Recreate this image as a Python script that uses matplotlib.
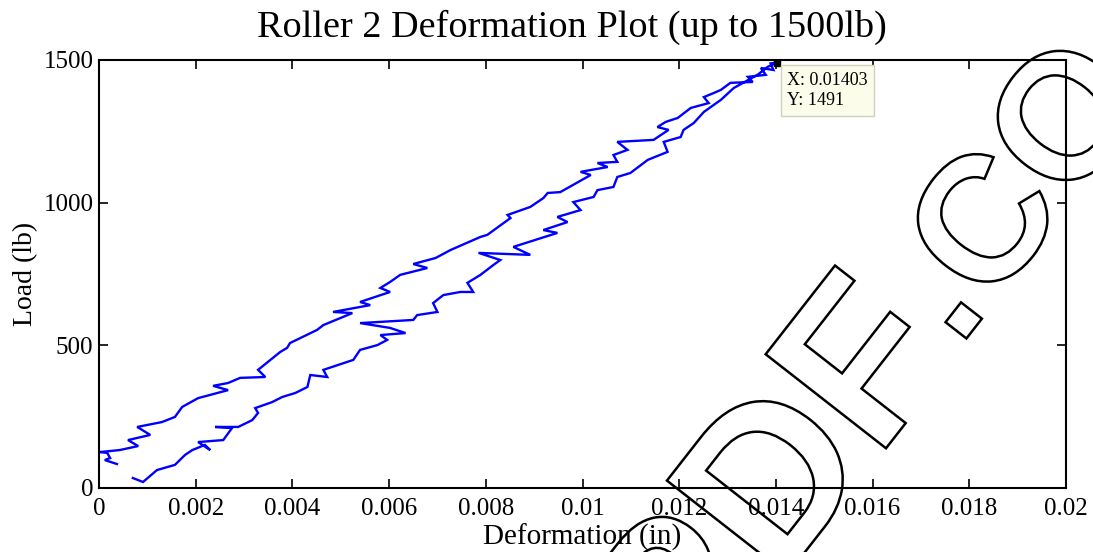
import matplotlib
matplotlib.use("Agg")
import matplotlib.pyplot as plt
from matplotlib.textpath import TextPath
from matplotlib.patches import PathPatch
from matplotlib.font_manager import FontProperties
from matplotlib.transforms import Affine2D

# ---------------- data ----------------
loading_deformation = [0.00070, 0.00091, 0.00120, 0.00157, 0.00178, 0.00193, 0.00219, 0.00230,
                       0.00205, 0.00257, 0.00275, 0.00240, 0.00288, 0.00317, 0.00329, 0.00323,
                       0.00358, 0.00379, 0.00406, 0.00431, 0.00437, 0.00472, 0.00464, 0.00526,
                       0.00540, 0.00576, 0.00596, 0.00582, 0.00634, 0.00602, 0.00540, 0.00650,
                       0.00658, 0.00700, 0.00691, 0.00712, 0.00747, 0.00774, 0.00762, 0.00789,
                       0.00816, 0.00830, 0.00785, 0.00892, 0.00857, 0.00948, 0.00919, 0.00969,
                       0.00948, 0.00996, 0.00981, 0.01023, 0.01031, 0.01064, 0.01072, 0.01099,
                       0.01135, 0.01176, 0.01168, 0.01203, 0.01209, 0.01230, 0.01251, 0.01286,
                       0.01313, 0.01362, 0.01383, 0.01403]
loading_load = [35, 21, 63, 81, 116, 133, 151, 133,
                161, 168, 210, 214, 214, 238, 263, 280,
                301, 319, 333, 354, 396, 389, 414, 449,
                484, 501, 519, 536, 543, 561, 578, 589,
                606, 617, 648, 676, 687, 687, 719, 747,
                782, 799, 824, 817, 845, 894, 904, 932,
                950, 974, 1002, 1020, 1044, 1055, 1090, 1104,
                1150, 1178, 1213, 1230, 1255, 1279, 1318, 1360,
                1402, 1448, 1476, 1491]

unloading_deformation = [0.01403, 0.01389, 0.01395, 0.01369, 0.01379, 0.01342, 0.01352, 0.01306,
                         0.01286, 0.01271, 0.01251, 0.01261, 0.01224, 0.01197, 0.01172, 0.01155,
                         0.01178, 0.01147, 0.01072, 0.01093, 0.01064, 0.01072, 0.01031, 0.01052,
                         0.00996, 0.01017, 0.00954, 0.00928, 0.00919, 0.00892, 0.00845, 0.00851,
                         0.00803, 0.00789, 0.00727, 0.00696, 0.00650, 0.00679, 0.00623, 0.00602,
                         0.00582, 0.00602, 0.00540, 0.00561, 0.00484, 0.00524, 0.00464, 0.00451,
                         0.00395, 0.00389, 0.00375, 0.00329, 0.00344, 0.00292, 0.00267, 0.00236,
                         0.00267, 0.00205, 0.00172, 0.00157, 0.00130, 0.00079, 0.00106, 0.00060,
                         0.00081, 0.00043, 0.00002, 0.00017, 0.00023, 0.00012, 0.00037]
unloading_load = [1491, 1488, 1465, 1472, 1448, 1441, 1423, 1420,
                  1395, 1384, 1370, 1349, 1332, 1297, 1283, 1265,
                  1255, 1220, 1213, 1185, 1167, 1143, 1139, 1125,
                  1108, 1097, 1037, 1034, 1016, 985, 957, 946,
                  887, 880, 834, 806, 785, 771, 747, 722,
                  701, 687, 652, 641, 617, 613, 571, 554,
                  508, 491, 477, 414, 389, 386, 368, 358,
                  343, 315, 284, 249, 231, 214, 186, 168,
                  147, 133, 126, 123, 105, 98, 84]

x_ticks = [0, 0.002, 0.004, 0.006, 0.008, 0.01, 0.012, 0.014, 0.016, 0.018, 0.02]
x_tick_labels = ["0", "0.002", "0.004", "0.006", "0.008", "0.01", "0.012", "0.014", "0.016", "0.018", "0.02"]
y_ticks = [0, 500, 1000, 1500]
y_tick_labels = ["0", "500", "1000", "1500"]
tip_x = 0.01403
tip_y = 1491

# ---------------- figure ----------------
W, H, DPI = 1093, 552, 100
fig = plt.figure(figsize=(W / DPI, H / DPI), dpi=DPI)
ax = fig.add_axes([99 / W, 1 - 488 / H, (1066 - 99) / W, (488 - 60) / H])

serif = ["Liberation Serif", "DejaVu Serif"]

ax.plot(loading_deformation + unloading_deformation, loading_load + unloading_load,
        color="#0000ff", lw=1.7, solid_joinstyle="miter")

ax.set_xlim(0, 0.02)
ax.set_ylim(0, 1500)
ax.set_xticks(x_ticks)
ax.set_xticklabels(x_tick_labels, family=serif, fontsize=18)
ax.set_yticks(y_ticks)
ax.set_yticklabels(y_tick_labels, family=serif, fontsize=18)
ax.tick_params(direction="in", length=6.5, width=1.2, top=True, right=True, pad=7)
ax.tick_params(axis="y", pad=4)
for s in ax.spines.values():
    s.set_linewidth(1.5)

ax.set_xlabel("Deformation (in)", family=serif, fontsize=21, labelpad=3)
ax.set_ylabel("Load (lb)", family=serif, fontsize=20, labelpad=4)
fig.text(571.5 / W, 1 - 37 / H, "Roller 2 Deformation Plot (up to 1500lb)", family=serif,
         fontsize=27.5, ha="center", va="baseline")

# data tip
ax.plot([tip_x], [tip_y], marker="s", color="black", markersize=5, clip_on=False, zorder=5)
ax.annotate(f"X: {tip_x}\nY: {tip_y}", xy=(tip_x, tip_y), xytext=(10, -9),
            textcoords="offset pixels", ha="left", va="top", family=serif, fontsize=13,
            linespacing=1.3,
            bbox=dict(boxstyle="square,pad=0.35", fc="#fcfcea", ec="#d0d0c0", lw=1),
            annotation_clip=False, zorder=6)

# watermark outline text
fp = FontProperties(family="Liberation Sans", weight="bold")
tp1 = TextPath((0, 0), "PDF", size=222, prop=fp)
tr1 = Affine2D().rotate_deg(52).translate(687, H - 703)
fig.add_artist(PathPatch(tp1, transform=tr1, fc="none", ec="black", lw=1.8, zorder=10))
tp2 = TextPath((0, 0), ".CO", size=178, prop=fp)
tr2 = Affine2D().rotate_deg(52).translate(959, H - 348)
fig.add_artist(PathPatch(tp2, transform=tr2, fc="none", ec="black", lw=1.8, zorder=10))

fig.savefig("out.png", dpi=DPI)
